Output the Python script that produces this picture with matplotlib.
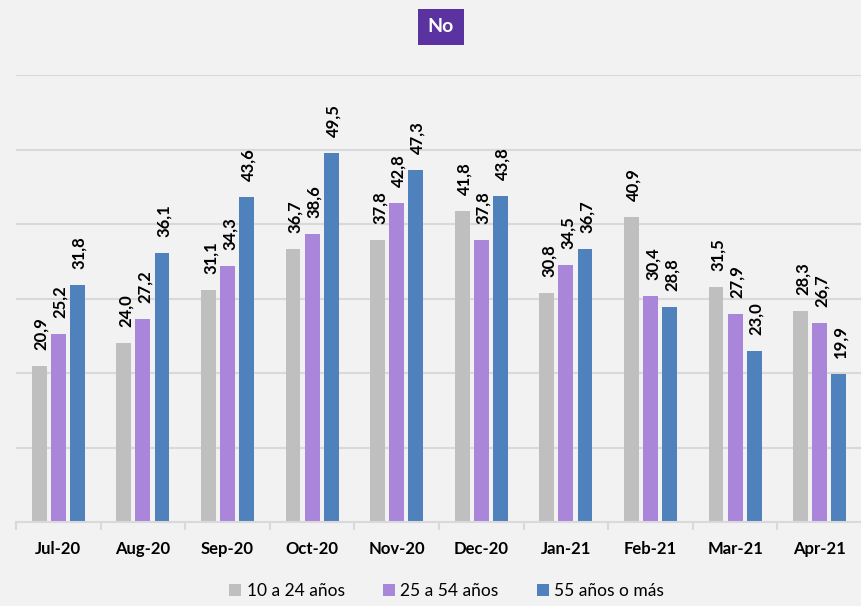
"""
Grouped bar chart of monthly percentages by age group for the "No" answer,
Jul-20 through Apr-21, with rotated value labels above every bar.
"""
import matplotlib
matplotlib.use("Agg")
import matplotlib.pyplot as plt
import numpy as np


BACKGROUND = "#F2F2F2"
GRID = "#D9D9D9"
TEXT = "#000000"
HEADER = "#5B33A0"
COLORS = ["#BFBFBF", "#A986D9", "#4F81BD"]

months = ["Jul-20", "Aug-20", "Sep-20", "Oct-20", "Nov-20",
          "Dec-20", "Jan-21", "Feb-21", "Mar-21", "Apr-21"]
series_names = ["10 a 24 años", "25 a 54 años", "55 años o más"]
age_10_24 = [20.9, 24.0, 31.1, 36.7, 37.8, 41.8, 30.8, 40.9, 31.5, 28.3]
age_25_54 = [25.2, 27.2, 34.3, 38.6, 42.8, 37.8, 34.5, 30.4, 27.9, 26.7]
age_55_up = [31.8, 36.1, 43.6, 49.5, 47.3, 43.8, 36.7, 28.8, 23.0, 19.9]

plt.rcParams["font.family"] = ["Lato", "DejaVu Sans"]


def make_plot():
    fig = plt.figure(figsize=(8.62, 6.06), dpi=100)
    fig.patch.set_facecolor(BACKGROUND)
    ax = fig.add_axes([16 / 862, 84 / 606, 1 - 16 / 862, 447 / 606])
    ax.set_facecolor(BACKGROUND)

    x = np.arange(len(months))
    width = 0.175
    step = 0.225
    for i, (name, vals) in enumerate(zip(series_names, [age_10_24, age_25_54, age_55_up])):
        pos = x + (i - 1) * step
        ax.bar(pos, vals, width, color=COLORS[i], label=name, zorder=2)
        for px, v in zip(pos, vals):
            ax.annotate(f"{v:.1f}".replace(".", ","), xy=(px, v),
                        xytext=(1.5, 11.5), textcoords="offset points",
                        rotation=90, ha="center", va="bottom",
                        fontsize=12, fontweight="bold", color=TEXT)

    ax.set_xlim(-0.5, len(months) - 0.5)
    ax.set_ylim(0, 60)
    ax.set_yticks(np.arange(10, 61, 10))
    ax.yaxis.grid(True, color=GRID, linewidth=1.5, zorder=0)
    ax.tick_params(axis="y", left=False, labelleft=False)

    ax.set_xticks(x)
    ax.set_xticklabels(months, fontsize=12, fontweight="bold", color=TEXT)
    ax.set_xticks(np.arange(-0.5, len(months)), minor=True)
    ax.tick_params(axis="x", which="major", length=0, pad=14)
    ax.tick_params(axis="x", which="minor", length=6, width=1.5, color=GRID)

    for spine in ["top", "right", "left"]:
        ax.spines[spine].set_visible(False)
    ax.spines["bottom"].set_color(GRID)
    ax.spines["bottom"].set_linewidth(1.5)

    fig.legend(loc="lower center", bbox_to_anchor=(0.518, -0.014), ncol=3,
               frameon=False, fontsize=12.5, handlelength=0.7, handleheight=0.7,
               handletextpad=0.3, columnspacing=2.2)

    fig.text(441 / 862, 1 - 27 / 606, "No", ha="center", va="center",
             fontsize=14, fontweight="bold", color="white",
             bbox=dict(boxstyle="square,pad=0.5", facecolor=HEADER,
                       edgecolor="none"))

    fig.savefig("out.png", facecolor=BACKGROUND)
    plt.close(fig)


def main():
    make_plot()


if __name__ == "__main__":
    main()
